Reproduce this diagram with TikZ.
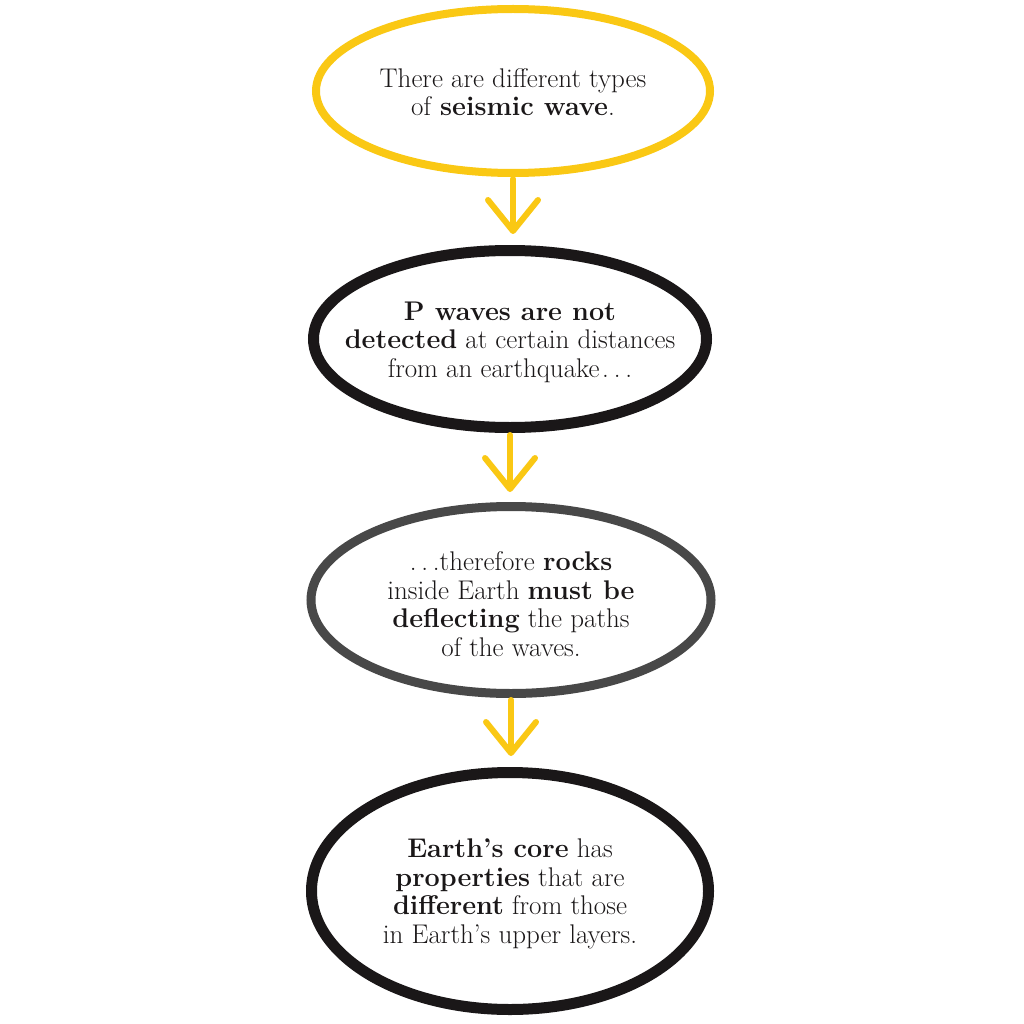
\documentclass[tikz,border=0pt]{standalone}
\usetikzlibrary{shapes.geometric,arrows.meta}
\definecolor{ylw}{RGB}{250,200,20}
\definecolor{ink}{RGB}{26,23,24}
\definecolor{graphite}{RGB}{72,72,72}
\newcommand{\spdots}{.\kern0.18em.\kern0.18em.}
\begin{document}
\begin{tikzpicture}[x=1pt,y=-1pt,
  bubble/.style={ellipse,inner sep=0pt},
  txt/.style={align=center,text=ink,inner sep=0pt,
    font=\fontsize{27}{28.5}\selectfont},
  arr/.style={draw=ylw,line width=6pt,line cap=round,
    -{Straight Barb[length=31pt,width=50pt,round]}}]
\useasboundingbox (0,0) rectangle (1024,1024);
\fill[white] (0,0) rectangle (1024,1024);

\node[bubble, draw=ylw, line width=8pt, minimum width=394pt, minimum height=164pt] (e1) at (513,91) {};
\node[bubble, draw=ink, line width=11pt, minimum width=393pt, minimum height=177pt] (e2) at (510,339) {};
\node[bubble, draw=graphite, line width=9pt, minimum width=400pt, minimum height=187pt] (e3) at (511,600) {};
\node[bubble, draw=ink, line width=11pt, minimum width=397pt, minimum height=237pt] (e4) at (510,891) {};

\node[txt, yshift=-1pt] (t1) at (e1.center)
  {There are different types\\of \textbf{seismic wave}.};
\node[txt, yshift=-3pt] (t2) at (e2.center)
  {\textbf{P waves are not}\\\textbf{detected} at certain distances\\from an earthquake\kern0.1em\spdots};
\node[txt, yshift=-4pt] (t3) at (e3.center)
  {\spdots therefore \textbf{rocks}\\inside Earth \textbf{must be}\\\textbf{deflecting} the paths\\of the waves.};
\node[txt, yshift=-3pt] (t4) at (e4.center)
  {\textbf{Earth's core} has\\\textbf{properties} that are\\\textbf{different} from those\\in Earth's upper layers.};

\draw[arr, shorten <=2pt, shorten >=11pt] (e1.south) -- (e1.south |- e2.north);
\draw[arr, shorten <=2pt, shorten >=10pt] (e2.south) -- (e2.south |- e3.north);
\draw[arr, shorten <=2pt, shorten >=11pt] (e3.south) -- (e3.south |- e4.north);
\end{tikzpicture}
\end{document}
